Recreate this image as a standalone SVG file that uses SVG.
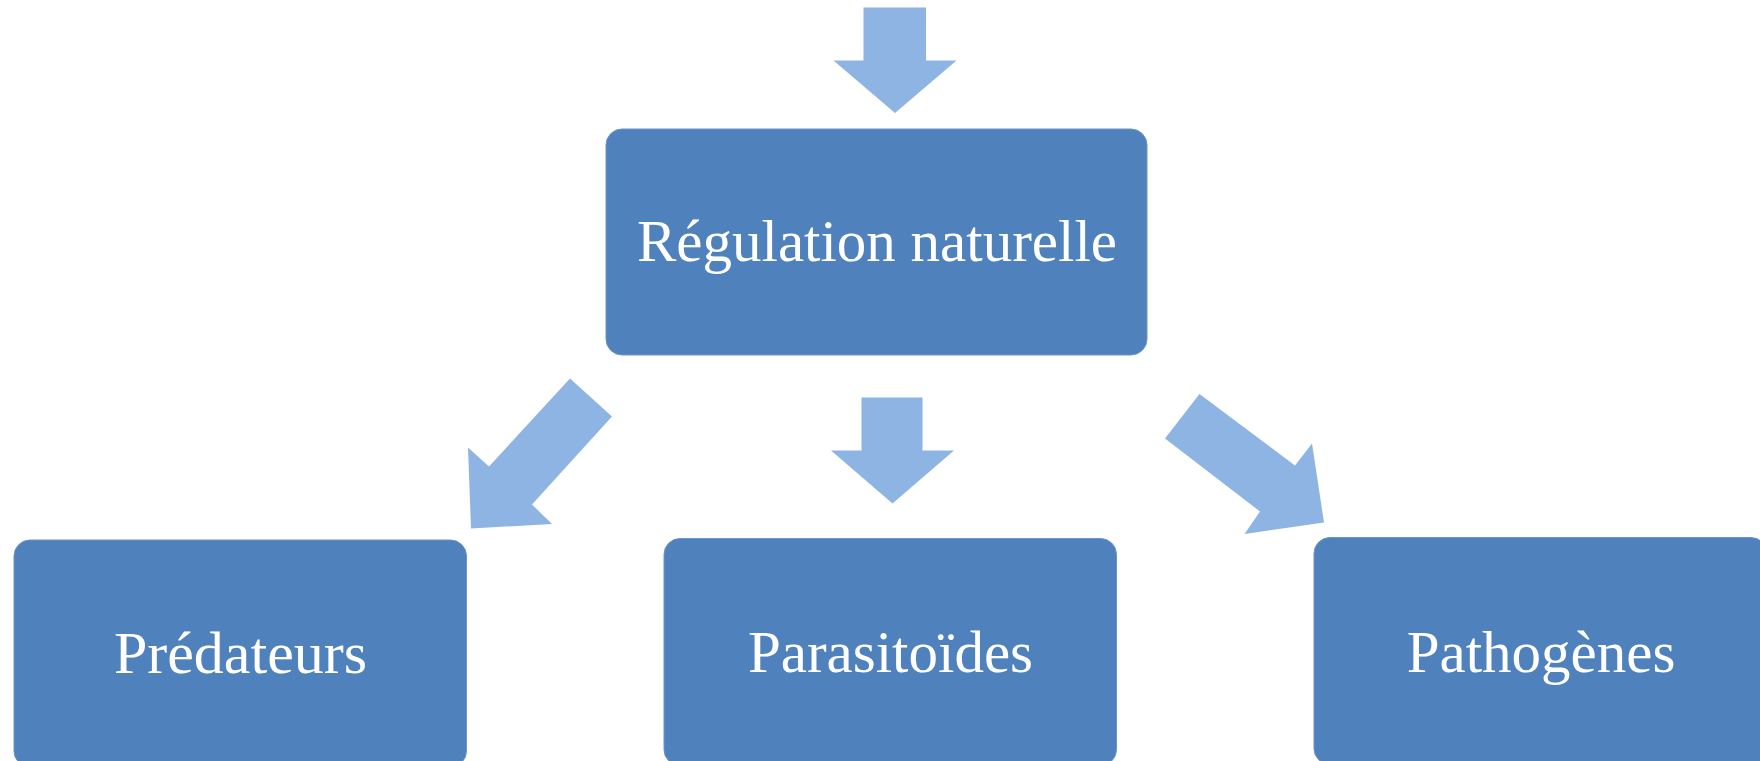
<svg xmlns="http://www.w3.org/2000/svg" width="1760" height="761" viewBox="0 0 1760 761">
<style>
.box{fill:#4F81BD;stroke:#6A93C7;stroke-width:1}
.arrow{fill:#8EB4E3}
.lbl{font-family:"Liberation Serif","Times New Roman",serif;fill:#ffffff;text-anchor:middle}
</style>
<rect width="1760" height="761" fill="#ffffff"/>
<g id="connectors">
<polygon class="arrow" points="863.5,7.5 926,7.5 926,60.5 956.5,60.5 895,113 833.5,60.5 863.5,60.5"/>
<polygon class="arrow" points="570,378.5 612,416.5 532,504.5 552,524 471,528.5 468,447.5 489,466.5"/>
<polygon class="arrow" points="861.5,397.5 922.5,397.5 922.5,450.5 954,450.5 892.5,503.5 831,450.5 861.5,450.5"/>
<polygon class="arrow" points="1199.5,394 1165,438.5 1260,511.5 1244.5,534 1324,522.5 1312,443.5 1295,465.5"/>
</g>
<g id="node-regulation">
<rect class="box" x="606" y="129" width="541" height="226" rx="16"/>
<text class="lbl" x="877" y="261" font-size="59">Régulation naturelle</text>
</g>
<g id="node-predateurs">
<rect class="box" x="14" y="540" width="452.5" height="227" rx="16"/>
<text class="lbl" x="240.5" y="673" font-size="60">Prédateurs</text>
</g>
<g id="node-parasitoides">
<rect class="box" x="664" y="538.5" width="452.5" height="227" rx="16"/>
<text class="lbl" x="890.5" y="671.5" font-size="59">Parasitoïdes</text>
</g>
<g id="node-pathogenes">
<rect class="box" x="1314" y="537.5" width="453" height="227" rx="16"/>
<text class="lbl" x="1541" y="671.5" font-size="59">Pathogènes</text>
</g>
</svg>
